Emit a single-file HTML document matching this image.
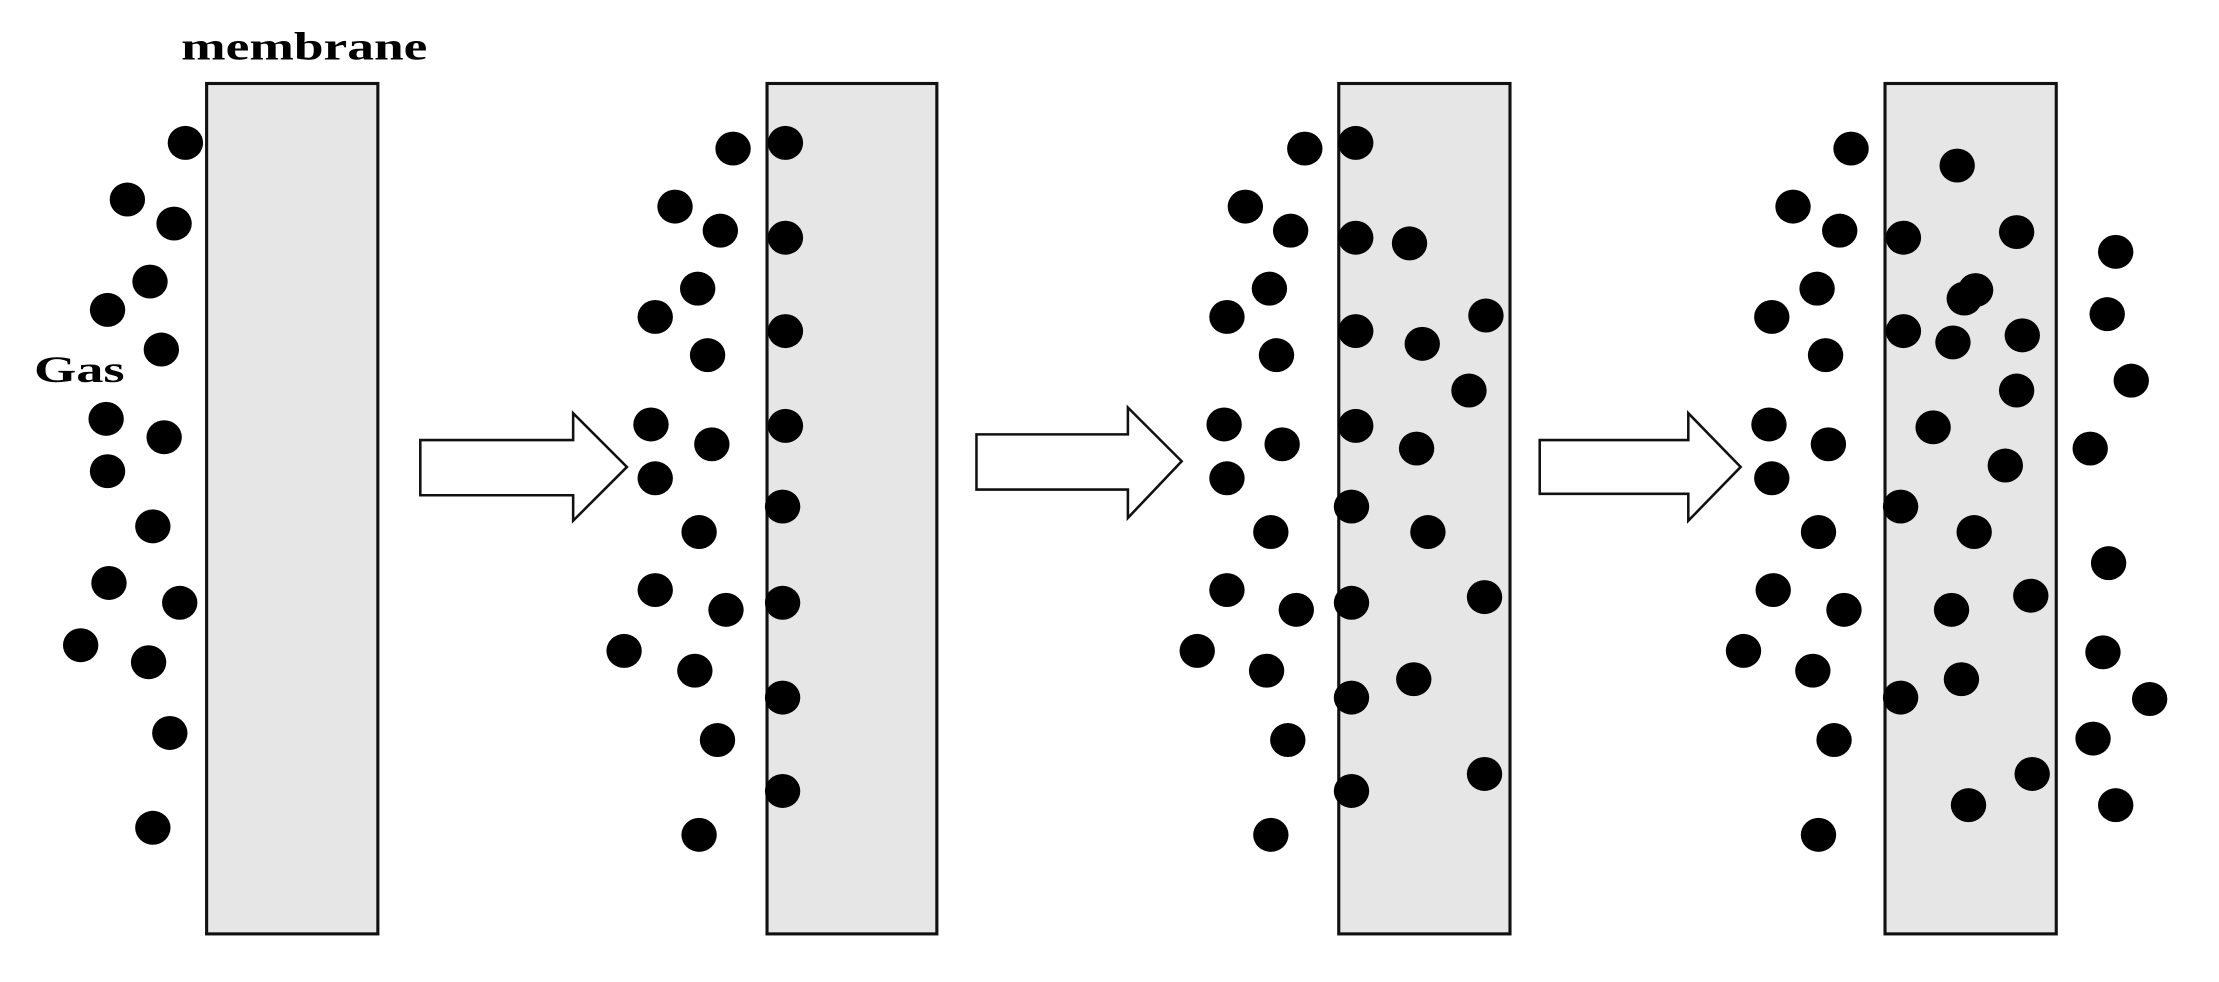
<!DOCTYPE html>
<html><head><meta charset="utf-8"><style>html,body{margin:0;padding:0;background:#fff}svg{display:block}</style></head>
<body>
<svg width="2219" height="982" viewBox="0 0 1568 694" preserveAspectRatio="none" xmlns="http://www.w3.org/2000/svg">
<rect width="1568" height="694" fill="#fff"/>
<g fill="#e6e6e6" stroke="#111" stroke-width="2.2">
<rect x="146" y="59" width="121" height="601"/>
<rect x="542" y="59" width="120" height="601"/>
<rect x="946" y="59" width="121" height="601"/>
<rect x="1332" y="59" width="121" height="601"/>
</g>
<g fill="#fff" stroke="#111" stroke-width="1.8">
<polygon points="297,311 405,311 405,292 443,330 405,368 405,350 297,350"/>
<polygon points="690,307 797,307 797,288 835,326 797,366 797,346 690,346"/>
<polygon points="1088,311 1193,311 1193,292 1230,330 1193,368 1193,349 1088,349"/>
</g>
<text x="128" y="42" textLength="174" lengthAdjust="spacingAndGlyphs" font-family="Liberation Serif, serif" font-weight="bold" font-size="28">membrane</text>
<text x="24" y="270" textLength="64" lengthAdjust="spacingAndGlyphs" font-family="Liberation Serif, serif" font-weight="bold" font-size="26">Gas</text>
<g fill="#000">
<ellipse cx="131" cy="101" rx="12.5" ry="12"/><ellipse cx="90" cy="141" rx="12.5" ry="12"/><ellipse cx="123" cy="158" rx="12.5" ry="12"/><ellipse cx="106" cy="199" rx="12.5" ry="12"/><ellipse cx="76" cy="219" rx="12.5" ry="12"/><ellipse cx="114" cy="247" rx="12.5" ry="12"/><ellipse cx="75" cy="296" rx="12.5" ry="12"/><ellipse cx="116" cy="309" rx="12.5" ry="12"/><ellipse cx="76" cy="333" rx="12.5" ry="12"/><ellipse cx="108" cy="372" rx="12.5" ry="12"/><ellipse cx="77" cy="412" rx="12.5" ry="12"/><ellipse cx="127" cy="426" rx="12.5" ry="12"/><ellipse cx="57" cy="456" rx="12.5" ry="12"/><ellipse cx="105" cy="468" rx="12.5" ry="12"/><ellipse cx="120" cy="518" rx="12.5" ry="12"/><ellipse cx="108" cy="585" rx="12.5" ry="12"/>
<ellipse cx="518" cy="105" rx="12.5" ry="12"/><ellipse cx="477" cy="146" rx="12.5" ry="12"/><ellipse cx="509" cy="163" rx="12.5" ry="12"/><ellipse cx="493" cy="204" rx="12.5" ry="12"/><ellipse cx="463" cy="224" rx="12.5" ry="12"/><ellipse cx="500" cy="251" rx="12.5" ry="12"/><ellipse cx="460" cy="300" rx="12.5" ry="12"/><ellipse cx="503" cy="314" rx="12.5" ry="12"/><ellipse cx="463" cy="338" rx="12.5" ry="12"/><ellipse cx="494" cy="376" rx="12.5" ry="12"/><ellipse cx="463" cy="417" rx="12.5" ry="12"/><ellipse cx="513" cy="431" rx="12.5" ry="12"/><ellipse cx="441" cy="460" rx="12.5" ry="12"/><ellipse cx="491" cy="474" rx="12.5" ry="12"/><ellipse cx="507" cy="523" rx="12.5" ry="12"/><ellipse cx="494" cy="590" rx="12.5" ry="12"/>
<ellipse cx="555" cy="101" rx="12.5" ry="12"/><ellipse cx="555" cy="168" rx="12.5" ry="12"/><ellipse cx="555" cy="234" rx="12.5" ry="12"/><ellipse cx="555" cy="301" rx="12.5" ry="12"/><ellipse cx="553" cy="358" rx="12.5" ry="12"/><ellipse cx="553" cy="426" rx="12.5" ry="12"/><ellipse cx="553" cy="493" rx="12.5" ry="12"/><ellipse cx="553" cy="559" rx="12.5" ry="12"/>
<ellipse cx="922" cy="105" rx="12.5" ry="12"/><ellipse cx="880" cy="146" rx="12.5" ry="12"/><ellipse cx="912" cy="163" rx="12.5" ry="12"/><ellipse cx="897" cy="204" rx="12.5" ry="12"/><ellipse cx="867" cy="224" rx="12.5" ry="12"/><ellipse cx="902" cy="251" rx="12.5" ry="12"/><ellipse cx="865" cy="300" rx="12.5" ry="12"/><ellipse cx="906" cy="314" rx="12.5" ry="12"/><ellipse cx="867" cy="338" rx="12.5" ry="12"/><ellipse cx="898" cy="376" rx="12.5" ry="12"/><ellipse cx="867" cy="417" rx="12.5" ry="12"/><ellipse cx="916" cy="431" rx="12.5" ry="12"/><ellipse cx="846" cy="460" rx="12.5" ry="12"/><ellipse cx="895" cy="474" rx="12.5" ry="12"/><ellipse cx="910" cy="523" rx="12.5" ry="12"/><ellipse cx="898" cy="590" rx="12.5" ry="12"/>
<ellipse cx="958" cy="101" rx="12.5" ry="12"/><ellipse cx="958" cy="168" rx="12.5" ry="12"/><ellipse cx="958" cy="234" rx="12.5" ry="12"/><ellipse cx="958" cy="301" rx="12.5" ry="12"/><ellipse cx="955" cy="358" rx="12.5" ry="12"/><ellipse cx="955" cy="426" rx="12.5" ry="12"/><ellipse cx="955" cy="493" rx="12.5" ry="12"/><ellipse cx="955" cy="559" rx="12.5" ry="12"/>
<ellipse cx="996" cy="172" rx="12.5" ry="12"/><ellipse cx="1005" cy="243" rx="12.5" ry="12"/><ellipse cx="1050" cy="223" rx="12.5" ry="12"/><ellipse cx="1038" cy="276" rx="12.5" ry="12"/><ellipse cx="1001" cy="317" rx="12.5" ry="12"/><ellipse cx="1009" cy="376" rx="12.5" ry="12"/><ellipse cx="1049" cy="422" rx="12.5" ry="12"/><ellipse cx="999" cy="480" rx="12.5" ry="12"/><ellipse cx="1049" cy="547" rx="12.5" ry="12"/>
<ellipse cx="1308" cy="105" rx="12.5" ry="12"/><ellipse cx="1267" cy="146" rx="12.5" ry="12"/><ellipse cx="1300" cy="163" rx="12.5" ry="12"/><ellipse cx="1284" cy="204" rx="12.5" ry="12"/><ellipse cx="1252" cy="224" rx="12.5" ry="12"/><ellipse cx="1290" cy="251" rx="12.5" ry="12"/><ellipse cx="1250" cy="300" rx="12.5" ry="12"/><ellipse cx="1292" cy="314" rx="12.5" ry="12"/><ellipse cx="1252" cy="338" rx="12.5" ry="12"/><ellipse cx="1285" cy="376" rx="12.5" ry="12"/><ellipse cx="1253" cy="417" rx="12.5" ry="12"/><ellipse cx="1303" cy="431" rx="12.5" ry="12"/><ellipse cx="1232" cy="460" rx="12.5" ry="12"/><ellipse cx="1281" cy="474" rx="12.5" ry="12"/><ellipse cx="1296" cy="523" rx="12.5" ry="12"/><ellipse cx="1285" cy="590" rx="12.5" ry="12"/>
<ellipse cx="1383" cy="117" rx="12.5" ry="12"/><ellipse cx="1345" cy="168" rx="12.5" ry="12"/><ellipse cx="1425" cy="164" rx="12.5" ry="12"/><ellipse cx="1396" cy="205" rx="12.5" ry="12"/><ellipse cx="1388" cy="211" rx="12.5" ry="12"/><ellipse cx="1345" cy="234" rx="12.5" ry="12"/><ellipse cx="1380" cy="242" rx="12.5" ry="12"/><ellipse cx="1429" cy="237" rx="12.5" ry="12"/><ellipse cx="1425" cy="276" rx="12.5" ry="12"/><ellipse cx="1366" cy="302" rx="12.5" ry="12"/><ellipse cx="1417" cy="329" rx="12.5" ry="12"/><ellipse cx="1343" cy="358" rx="12.5" ry="12"/><ellipse cx="1395" cy="376" rx="12.5" ry="12"/><ellipse cx="1435" cy="421" rx="12.5" ry="12"/><ellipse cx="1379" cy="431" rx="12.5" ry="12"/><ellipse cx="1343" cy="493" rx="12.5" ry="12"/><ellipse cx="1386" cy="480" rx="12.5" ry="12"/><ellipse cx="1436" cy="547" rx="12.5" ry="12"/><ellipse cx="1391" cy="569" rx="12.5" ry="12"/>
<ellipse cx="1495" cy="178" rx="12.5" ry="12"/><ellipse cx="1489" cy="222" rx="12.5" ry="12"/><ellipse cx="1506" cy="269" rx="12.5" ry="12"/><ellipse cx="1477" cy="317" rx="12.5" ry="12"/><ellipse cx="1490" cy="398" rx="12.5" ry="12"/><ellipse cx="1486" cy="461" rx="12.5" ry="12"/><ellipse cx="1519" cy="494" rx="12.5" ry="12"/><ellipse cx="1479" cy="522" rx="12.5" ry="12"/><ellipse cx="1495" cy="569" rx="12.5" ry="12"/>
</g>
</svg>
</body></html>
